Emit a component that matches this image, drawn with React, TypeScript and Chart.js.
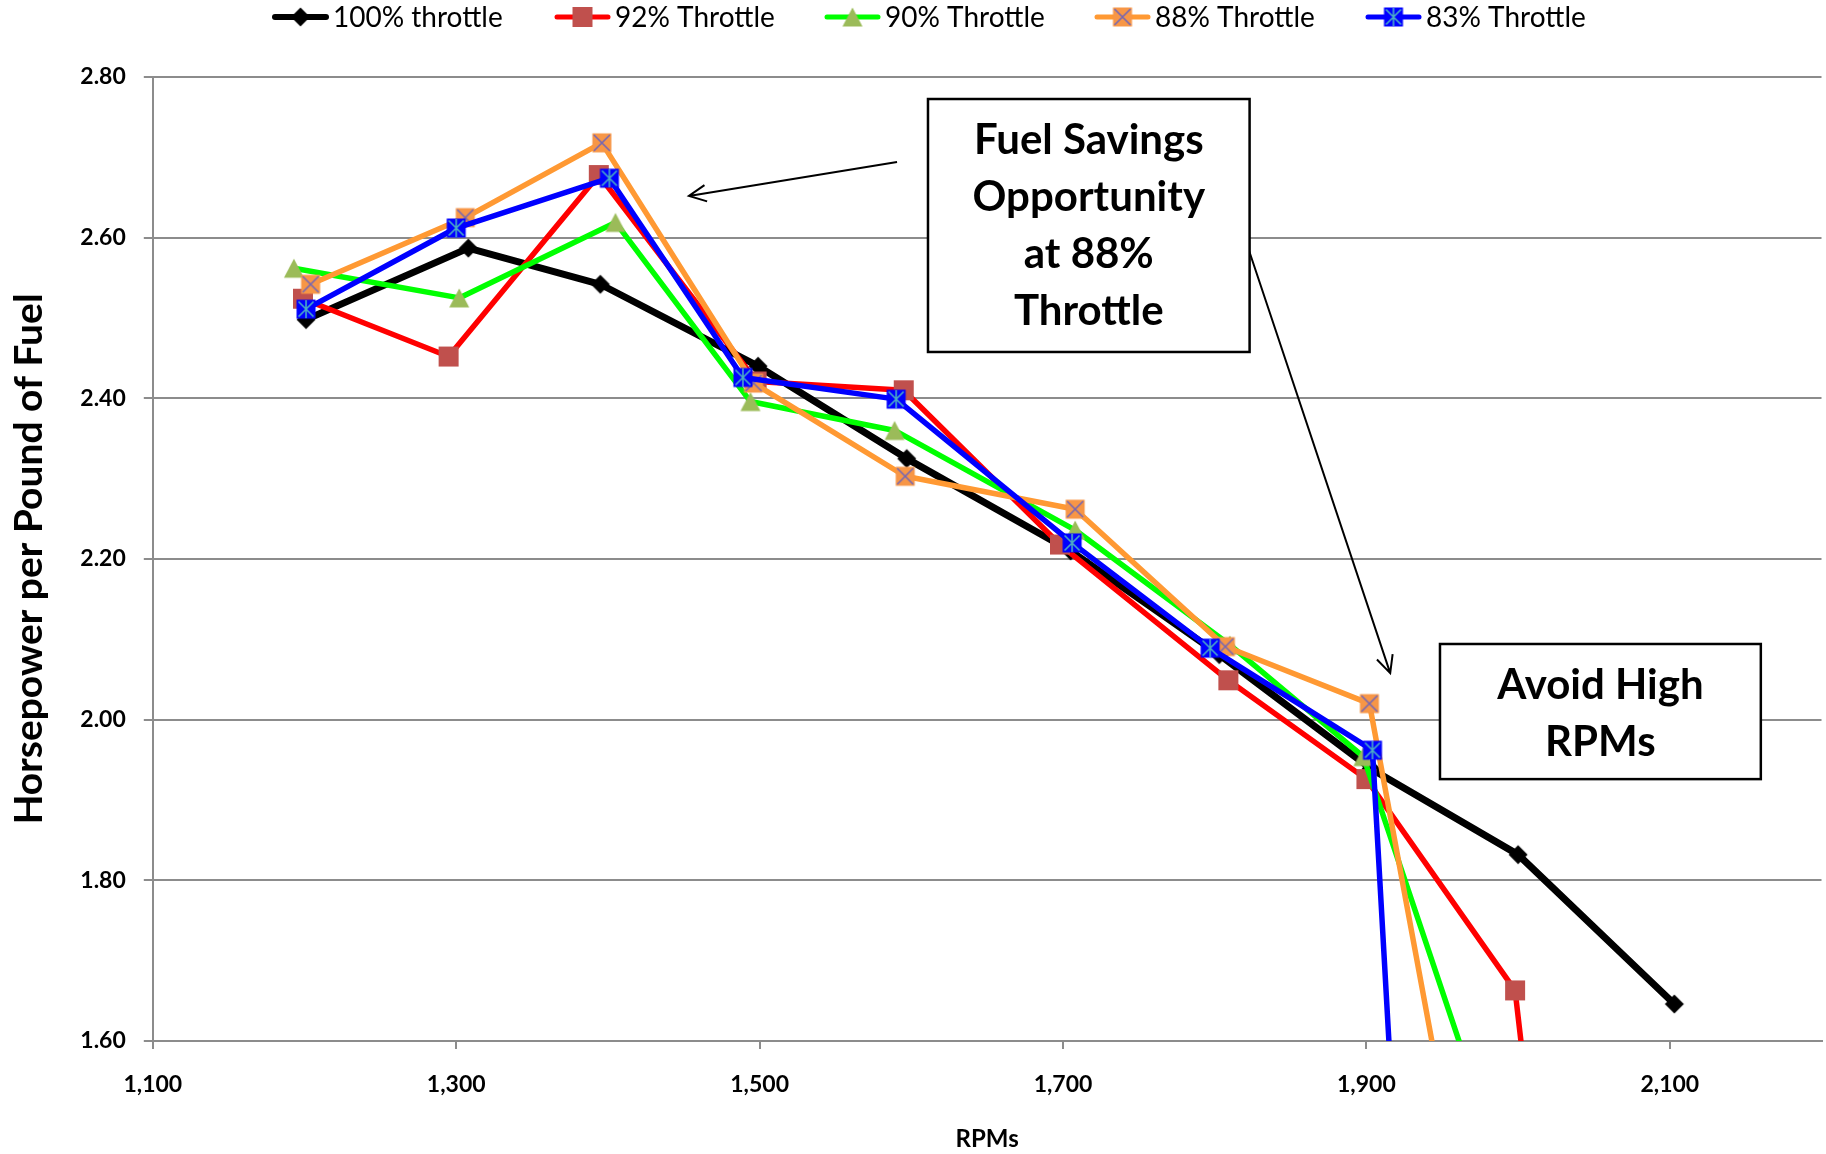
import React, { useEffect, useRef } from "react";
import { Chart, registerables } from "chart.js";

Chart.register(...registerables);

// ---------- data ----------
const SERIES_NAMES = ["100% throttle", "92% Throttle", "90% Throttle", "88% Throttle", "83% Throttle"];

const RPM_100 = [1201, 1308, 1395, 1499, 1597, 1705, 1803, 1903, 2000, 2103];
const HP_100 = [2.498, 2.587, 2.542, 2.44, 2.325, 2.21, 2.081, 1.939, 1.832, 1.646];

const RPM_92 = [1199, 1295, 1394, 1498, 1595, 1698, 1809, 1900, 1998, 2100];
const HP_92 = [2.524, 2.452, 2.678, 2.421, 2.41, 2.218, 2.049, 1.926, 1.663, 0];

const RPM_90 = [1193, 1302, 1405, 1494, 1589, 1708, 1810, 1898, 2100];
const HP_90 = [2.562, 2.525, 2.619, 2.396, 2.36, 2.236, 2.093, 1.954, 0.82];

const RPM_88 = [1204, 1306, 1396, 1496, 1596, 1708, 1807, 1902, 2100];
const HP_88 = [2.542, 2.625, 2.718, 2.419, 2.303, 2.262, 2.091, 2.02, 0];

const RPM_83 = [1201, 1300, 1401, 1489, 1590, 1706, 1797, 1904, 1960];
const HP_83 = [2.511, 2.612, 2.674, 2.426, 2.399, 2.22, 2.089, 1.962, 0.09];

const X_TICKS = [1100, 1300, 1500, 1700, 1900, 2100];
const X_MIN = 1100;
const X_MAX = 2200;
const Y_MIN = 1.6;
const Y_MAX = 2.8;
const Y_STEP = 0.2;

const X_TITLE = "RPMs";
const Y_TITLE = "Horsepower per Pound of Fuel";
const NOTE_SAVINGS = ["Fuel Savings", "Opportunity", "at 88%", "Throttle"];
const NOTE_AVOID = ["Avoid High", "RPMs"];

// ---------- styles ----------
const FONT = "Lato, 'Open Sans', 'DejaVu Sans', sans-serif";
const GRID = "#8c8c8c";
const LINE_COLORS = ["#000000", "#ff0000", "#00ff00", "#ff9933", "#0000ff"];
const LINE_WIDTHS = [7, 5.5, 5.5, 5.5, 5.5];

function makeMarker(kind: number): HTMLCanvasElement {
  const c = document.createElement("canvas");
  const s = 22;
  c.width = s;
  c.height = s;
  const g = c.getContext("2d")!;
  const m = s / 2;
  if (kind === 0) {
    g.fillStyle = "#000";
    g.beginPath();
    g.moveTo(m, m - 9.5);
    g.lineTo(m + 9.5, m);
    g.lineTo(m, m + 9.5);
    g.lineTo(m - 9.5, m);
    g.closePath();
    g.fill();
  } else if (kind === 1) {
    g.fillStyle = "#c0504d";
    g.fillRect(m - 10, m - 10, 20, 20);
  } else if (kind === 2) {
    g.fillStyle = "#9bbb59";
    g.beginPath();
    g.moveTo(m, 1.5);
    g.lineTo(m + 10, 20.5);
    g.lineTo(m - 10, 20.5);
    g.closePath();
    g.fill();
  } else if (kind === 3) {
    g.fillStyle = "#f79646";
    g.fillRect(m - 9.5, m - 9.5, 19, 19);
    g.strokeStyle = "#7466b4";
    g.lineWidth = 1.6;
    g.beginPath();
    g.moveTo(m - 8, m - 8);
    g.lineTo(m + 8, m + 8);
    g.moveTo(m + 8, m - 8);
    g.lineTo(m - 8, m + 8);
    g.stroke();
  } else {
    g.fillStyle = "#0000ff";
    g.fillRect(m - 9.5, m - 9.5, 19, 19);
    g.strokeStyle = "#4bacc6";
    g.lineWidth = 1.6;
    g.beginPath();
    g.moveTo(m - 7.5, m - 7.5);
    g.lineTo(m + 7.5, m + 7.5);
    g.moveTo(m + 7.5, m - 7.5);
    g.lineTo(m - 7.5, m + 7.5);
    g.moveTo(m, m - 9);
    g.lineTo(m, m + 9);
    g.stroke();
  }
  return c;
}

function arrow(ctx: CanvasRenderingContext2D, x1: number, y1: number, x2: number, y2: number) {
  const a = Math.atan2(y2 - y1, x2 - x1);
  const h = 19;
  const w = 0.45;
  ctx.beginPath();
  ctx.moveTo(x1, y1);
  ctx.lineTo(x2, y2);
  ctx.moveTo(x2 - h * Math.cos(a - w), y2 - h * Math.sin(a - w));
  ctx.lineTo(x2, y2);
  ctx.lineTo(x2 - h * Math.cos(a + w), y2 - h * Math.sin(a + w));
  ctx.stroke();
}

export default function App() {
  const ref = useRef<HTMLCanvasElement | null>(null);

  useEffect(() => {
    const canvas = ref.current;
    if (!canvas) return;
    const markers = [0, 1, 2, 3, 4].map(makeMarker);
    const xs = [RPM_100, RPM_92, RPM_90, RPM_88, RPM_83];
    const ys = [HP_100, HP_92, HP_90, HP_88, HP_83];

    const datasets = SERIES_NAMES.map((name, i) => ({
      label: name,
      data: xs[i].map((x, k) => ({ x, y: ys[i][k] })),
      showLine: true,
      borderColor: LINE_COLORS[i],
      backgroundColor: LINE_COLORS[i],
      borderWidth: LINE_WIDTHS[i],
      borderJoinStyle: "round" as const,
      borderCapStyle: "round" as const,
      pointStyle: markers[i],
      pointRadius: 10,
      pointHoverRadius: 10,
      tension: 0,
      clip: 0,
      order: 5 - i,
    }));

    const overlay = {
      id: "overlay",
      afterDraw(chart: any) {
        const ctx: CanvasRenderingContext2D = chart.ctx;
        const sx = chart.scales.x;
        const sy = chart.scales.y;
        const px = (v: number) => sx.getPixelForValue(v);
        const py = (v: number) => sy.getPixelForValue(v);
        ctx.save();

        // legend
        const starts = [273, 555, 825, 1095, 1366];
        const ly = 17;
        ctx.font = `28px ${FONT}`;
        ctx.textBaseline = "middle";
        ctx.textAlign = "left";
        SERIES_NAMES.forEach((name, i) => {
          const x0 = starts[i];
          ctx.strokeStyle = LINE_COLORS[i];
          ctx.lineWidth = i === 0 ? 6 : 5;
          ctx.lineCap = "round";
          ctx.beginPath();
          ctx.moveTo(x0 + 2, ly);
          ctx.lineTo(x0 + 53, ly);
          ctx.stroke();
          const mk = markers[i];
          ctx.drawImage(mk, x0 + 27.5 - mk.width / 2, ly - mk.height / 2);
          ctx.fillStyle = "#000";
          ctx.fillText(name, x0 + 60, ly + 1);
        });

        // arrows
        ctx.strokeStyle = "#000";
        ctx.lineWidth = 2;
        ctx.lineCap = "butt";
        arrow(ctx, px(1590.6), py(2.6942), px(1453.4), py(2.6519));
        arrow(ctx, px(1821.4), py(2.5909), px(1915.7), py(2.058));

        // annotation boxes
        const box = (x1: number, x2: number, y1: number, y2: number, lines: string[], first: number) => {
          const l = px(x1), r = px(x2), t = py(y1), b = py(y2);
          ctx.fillStyle = "#fff";
          ctx.fillRect(l, t, r - l, b - t);
          ctx.strokeStyle = "#000";
          ctx.lineWidth = 2.5;
          ctx.strokeRect(l, t, r - l, b - t);
          ctx.fillStyle = "#000";
          ctx.font = `bold 42px ${FONT}`;
          ctx.textAlign = "center";
          ctx.textBaseline = "alphabetic";
          lines.forEach((s, k) => ctx.fillText(s, (l + r) / 2, t + first + k * 57));
        };
        box(1611, 1823, 2.7726, 2.4577, NOTE_SAVINGS, 55);
        box(1948.5, 2160, 2.0942, 1.926, NOTE_AVOID, 55.5);

        ctx.restore();
      },
    };

    const tickFont = { family: FONT, size: 23, weight: "bold" as const };

    const chart = new Chart(canvas, {
      type: "scatter",
      data: { datasets: datasets as any },
      options: {
        responsive: false,
        animation: false,
        events: [],
        layout: { autoPadding: false, padding: { left: 0, right: 4.5, top: 77, bottom: 0 } },
        plugins: { legend: { display: false }, tooltip: { enabled: false } },
        scales: {
          x: {
            type: "linear",
            min: X_MIN,
            max: X_MAX,
            afterBuildTicks: (s: any) => {
              s.ticks = X_TICKS.map((v) => ({ value: v }));
            },
            afterFit: (s: any) => {
              s.height = 113;
              s.paddingLeft = 0;
              s.paddingRight = 0;
            },
            grid: { drawOnChartArea: false, drawTicks: true, tickLength: 8, color: GRID, lineWidth: 2 },
            border: { color: GRID, width: 2 },
            ticks: {
              font: tickFont,
              color: "#000",
              padding: 22,
              maxRotation: 0,
              autoSkip: false,
              callback: (v: any) => Number(v).toLocaleString("en-US"),
            },
            title: {
              display: true,
              text: X_TITLE,
              color: "#000",
              font: { family: FONT, size: 24, weight: "bold" },
              padding: { top: 0, bottom: 0 },
            },
          },
          y: {
            type: "linear",
            min: Y_MIN,
            max: Y_MAX,
            afterFit: (s: any) => {
              s.width = 152.8;
              s.paddingTop = 0;
              s.paddingBottom = 0;
            },
            grid: { color: GRID, lineWidth: 2, tickLength: 9 },
            border: { color: GRID, width: 2 },
            ticks: {
              stepSize: Y_STEP,
              font: tickFont,
              color: "#000",
              padding: 18,
              callback: (v: any) => Number(v).toFixed(2),
            },
            title: {
              display: true,
              text: Y_TITLE,
              color: "#000",
              font: { family: FONT, size: 39, weight: "bold" },
              padding: { top: 6, bottom: 0 },
            },
          },
        },
      },
      plugins: [overlay],
    });

    return () => chart.destroy();
  }, []);

  return (
    <div style={{ position: "fixed", left: 0, top: 0, width: 1826, height: 1154, background: "#fff" }}>
      <canvas ref={ref} width={1826} height={1154} style={{ display: "block", width: 1826, height: 1154 }} />
    </div>
  );
}
